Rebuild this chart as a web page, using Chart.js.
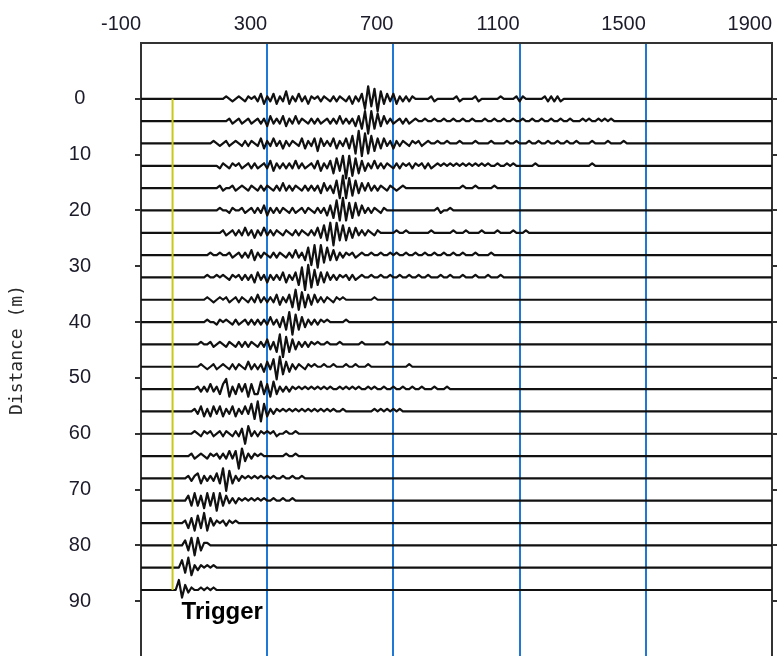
<!DOCTYPE html>
<html>
<head>
<meta charset="utf-8">
<script src="https://cdn.jsdelivr.net/npm/chart.js@4.4.1/dist/chart.umd.min.js"></script>
<style>
  html, body { margin: 0; padding: 0; background: #fff; overflow: hidden; }
  canvas { display: block; }
</style>
</head>
<body>
<canvas id="seisChart" width="778" height="680"></canvas>
<script>
// geophone offsets (m) and time axis (ms)
const distances = [0, 4, 8, 12, 16, 20, 24, 28, 32, 36, 40, 44, 48, 52, 56, 60, 64, 68, 72, 76, 80, 84, 88];
const startTimes = [160, 160, 120, 140, 140, 140, 140, 110, 100, 100, 100, 80, 80, 70, 60, 60, 50, 40, 40, 30, 30, 20, 10];
const sampleStep = 10;
const xTicks = [-100, 300, 700, 1100, 1500, 1900];
const yTicks = [0, 10, 20, 30, 40, 50, 60, 70, 80, 90];
const triggerTime = 0;

// trace amplitudes, one value every sampleStep ms
const waves = [
  [0,1,0,-1,0,1,0,-1,1,0, 1,-1,2,-2,1,-1,2,-2,1,-1, 3,-2,1,-1,2,-1,1,-2,1,0, 1,-1,1,0,-1,1,-1,1,0,-1,
   1,-2,1,-1,2,-4,5,-3,4,-5, 3,-2,2,-1,2,-2,1,-1,1,-1, 1,0,0,0,0,0,1,-1,0,0, 0,0,0,0,1,-1,0,0,0,0,
   1,-1,0,0,0,0,0,0,1,0, 0,0,0,1,-1,1,0,0,0,0, 0,0,1,-1,1,-1,1,-1,0,0,0],
  [0,0,1,-1,0,1,-1,0,1,-1, 0,1,-1,1,-2,2,-1,1,-1,2, -2,1,-1,2,-1,1,0,-1,1,-1, 1,-1,0,1,-1,1,-1,2,-1,1,
   -1,1,-2,2,-3,4,-5,4,-3,3, -2,2,-1,1,-1,0,1,-1,1,-1, 0,1,0,0,1,0,0,1,0,0, 1,0,0,1,0,0,1,0,0,1,
   0,0,0,1,0,0,1,0,0,1, 0,0,1,0,0,1,0,0,1,0, 0,1,0,0,1,0,0,1,0,0, 1,0,0,0,1,0,1,0,0,1, 0,1,0,1,0],
  [0,1,0,-1,0,1,-1,0,1,0, -1,1,-1,1,0,-1,2,-2,1,-1, 2,-1,1,-2,1,-1,1,0,-1,2, -2,1,-1,2,-3,2,-1,1,-1,2,
   -2,1,-1,2,-2,3,-4,5,-5,4, -4,3,-3,2,-2,2,-1,1,-2,1, -1,1,0,-1,1,0,1,-1,0,1, 0,0,1,0,0,1,0,0,0,1,
   0,0,0,0,1,0,0,0,0,1, 0,0,0,0,1,0,0,1,0,0, 0,1,0,0,1,0,0,1,0,0, 1,0,0,1,0,0,1,0,0,0,
   0,1,0,0,0,0,1,0,0,0, 0,1,0],
  [0,-1,1,0,-1,1,0,1,-1,0, 1,-1,1,-1,0,1,-1,2,-2,1, -1,1,-1,1,-1,2,-1,1,-1,0, 1,-1,2,-2,1,-1,2,-3,3,-2,
   4,-5,4,-4,3,-3,2,-2,1,-1, 2,-1,1,-1,1,0,-1,1,-1,1, 0,1,-1,1,0,1,-1,1,-1,0, 1,0,1,0,1,0,1,0,1,0,
   1,0,1,0,1,0,1,0,0,1, 0,0,1,0,1,0,0,0,0,0, 0,1,0,0,0,0,0,0,0,0, 0,0,0,0,0,0,0,0,0,1,0],
  [0,1,-1,0,0,1,-1,0,1,0, -1,1,0,-1,1,-1,1,0,-1,1, -1,2,-1,1,-1,1,0,-1,1,-1, 1,-1,1,-2,2,-1,1,-2,3,-4,
   5,-4,4,-3,3,-2,2,-1,2,-1, 1,-1,1,0,-1,1,0,-1,0,1, 0,0,0,0,0,0,0,0,0,0, 0,0,0,0,0,0,0,0,1,0,
   0,0,1,0,0,0,0,0,1,0,0],
  [0,1,0,0,-1,1,0,0,1,-1, 0,1,-1,1,-1,2,-2,1,-1,1, -1,1,0,-1,1,-1,0,1,-1,1, 0,-1,1,-1,1,-2,2,-3,4,-4,
   5,-4,3,-3,3,-2,2,-1,1,-1, 1,0,-1,1,0,0,0,0,0,0, 0,0,0,0,0,0,0,0,0,0, 1,-1,0,0,1,0,0],
  [0,0,1,-1,0,1,-1,1,-1,2, -1,1,-2,1,-1,2,-1,1,-1,1, 0,-1,1,0,-1,1,-1,1,0,-1, 1,-1,2,-2,3,-3,4,-5,4,-3,
   3,-3,2,-2,2,-1,1,-1,1,0, -1,1,0,0,0,0,0,1,0,0, 1,0,0,0,0,0,0,0,1,0, 0,0,0,0,0,1,0,0,0,1,
   0,0,0,0,1,0,0,0,0,1, 0,0,0,0,1,0,0,0,1,0],
  [0,1,0,0,1,0,0,1,-1,0, 1,-1,1,-1,2,-2,1,-1,1,0, -1,1,-1,1,0,-1,1,-1,2,-1, 1,-2,3,-4,4,-5,4,-3,3,-2,
   2,-2,1,-1,1,0,1,-1,0,1, 0,0,1,0,0,1,0,0,1,0, 1,0,0,1,0,0,1,0,0,1, 0,0,1,0,0,1,0,0,1,0,
   0,1,0,0,0,1,0,0,0,0, 1,0,0,0],
  [0,1,0,0,1,0,1,0,-1,1, 0,1,-1,1,-1,1,-2,2,-1,1, -2,1,-1,1,-1,2,-2,1,-1,2, -3,4,-5,5,-4,3,-3,2,-2,2,
   -1,1,-1,1,0,1,-1,1,-1,0, 1,0,0,1,0,0,1,0,0,1, 0,0,1,0,0,1,0,0,1,0, 0,1,0,0,0,1,0,0,1,0,
   0,0,1,0,0,0,1,0,0,0, 1,0,0,0,1,0],
  [0,1,0,-1,0,1,0,1,-1,0, 1,-1,1,0,-1,1,-1,2,-1,1, -1,1,-1,2,-2,1,-1,2,-3,4, -4,3,-3,2,-2,2,-1,1,-1,1,
   0,-1,1,0,1,0,0,0,0,0, 0,0,0,0,1,0],
  [0,1,0,0,-1,1,0,1,0,-1, 1,-1,0,1,-1,1,-1,1,-1,1, -1,2,-1,1,-2,2,-3,4,-5,3, -3,2,-2,1,-1,1,-1,1,0,1,
   0,0,0,0,0,1,0],
  [0,1,0,0,1,-1,0,1,0,-1, 1,0,-1,1,-1,1,-1,1,0,-1, 1,-1,2,-2,1,-3,4,-5,3,-3, 2,-2,1,-1,1,-1,1,0,1,0,
   0,1,0,0,0,1,0,0,0,0, 0,0,1,0,0,0,0,0,0,0,1,0],
  [0,1,0,-1,0,1,-1,0,1,0, -1,1,-1,1,0,-1,2,-1,1,-1, 1,-2,2,-1,3,-5,4,-3,2,-2, 1,-1,1,0,-1,1,0,1,0,0,
   1,0,0,1,0,0,0,1,0,0, 1,0,0,0,1,0,0,0,0,0, 0,0,0,0,0,0,0,1,0],
  [0,1,-1,1,-1,2,-1,1,-2,2, 4,-3,1,-2,2,-1,2,-3,2,-2, -2,3,-2,2,-3,3,-2,1,-1,1, -1,1,0,1,0,1,0,1,0,1,
   0,1,0,1,0,0,1,0,1,0, 1,0,1,0,0,1,0,1,0,0, 1,0,0,1,0,0,1,0,0,1, 0,0,1,0,0,0,1,0,0,0, 1,0,0,0],
  [0,1,-1,2,-2,1,-2,2,-1,2, -2,1,-1,2,-2,1,-1,2,-1,3, -3,4,-4,3,-2,1,-1,1,0,1, 0,1,0,1,0,1,0,1,0,1,
   0,1,0,1,0,1,0,0,1,0, 0,0,0,0,0,0,0,0,1,0, 1,0,1,0,1,0,1,0,0,0],
  [0,1,0,-1,1,0,1,-1,0,1, -1,1,0,-1,1,-1,2,-4,3,-1, 1,-1,1,0,1,0,1,-1,0,0, 1,0,0,1,0],
  [0,1,-1,0,1,0,-1,1,0,1, -1,1,-1,2,-1,2,-5,3,-2,1, -1,1,0,1,0,0,0,0,0,0, 0,1,0,0,1,0],
  [0,1,-1,1,2,-2,1,-1,1,-1, 2,-2,4,-5,3,-2,1,-1,1,0, 1,0,1,0,1,0,1,0,1,0, 0,1,0,0,1,0,0,1,0,0],
  [0,2,-2,3,-2,2,-3,3,-2,3, -4,3,-2,2,-1,1,-1,1,0,1, 0,1,0,1,0,1,0,0,1,0, 0,1,0,0,1,0,0],
  [0,1,-2,2,-3,3,-2,4,-3,2, -1,1,0,1,-1,1,0,1,0,0],
  [0,2,-2,3,-4,3,-2,1,1,0],
  [0,3,-2,4,-3,1,-1,1,0,1,0,1,0],
  [0,4,-3,2,-1,1,0,0,1,0,1,0,1,0]
];

const ampScale = 0.45; // m of offset per amplitude unit

function tracePoints(i) {
  const d = distances[i];
  const pts = [{x: xTicks[0], y: d}];
  waves[i].forEach((a, k) => {
    pts.push({x: startTimes[i] + k * sampleStep, y: d - a * ampScale});
  });
  pts.push({x: xTicks[xTicks.length - 1], y: d});
  return pts;
}

const datasets = [{
  data: [{x: triggerTime, y: distances[0]}, {x: triggerTime, y: distances[distances.length - 1]}],
  borderColor: '#c9c81a',
  borderWidth: 2
}];
distances.forEach((d, i) => {
  datasets.push({
    data: tracePoints(i),
    borderColor: '#111',
    borderWidth: 2.2,
    borderJoinStyle: 'round'
  });
});

const triggerLabel = {
  id: 'triggerLabel',
  afterDatasetsDraw(chart) {
    const {ctx, scales} = chart;
    const x = scales.x.getPixelForValue(triggerTime) + 9;
    const y = scales.y.getPixelForValue(distances[distances.length - 1]) + 29;
    ctx.save();
    ctx.font = 'bold 24px "Liberation Sans", Arial, sans-serif';
    ctx.fillStyle = '#000';
    ctx.textAlign = 'left';
    ctx.textBaseline = 'alphabetic';
    ctx.fillText('Trigger', x, y);
    ctx.restore();
  }
};

const setTicks = list => scale => { scale.ticks = list.map(v => ({value: v})); };
const noPad = w => s => { s.width = w; s.paddingTop = 0; s.paddingBottom = 0; };

const ctx = document.getElementById('seisChart').getContext('2d');

let seisChart = new Chart(ctx, {
  type: 'line',
  data: { datasets: datasets },
  options: {
    responsive: false,
    animation: false,
    devicePixelRatio: 1,
    layout: { padding: { left: 0, right: 0, top: 0, bottom: 23 } },
    elements: { point: { radius: 0 }, line: { tension: 0 } },
    plugins: { legend: { display: false }, tooltip: { enabled: false } },
    scales: {
      x: {
        type: 'linear',
        position: 'top',
        min: -100,
        max: 1900,
        z: 1,
        afterBuildTicks: setTicks(xTicks),
        afterFit: s => { s.height = 43; s.paddingLeft = 0; s.paddingRight = 0; },
        border: { color: '#333', width: 2 },
        grid: {
          drawTicks: false,
          lineWidth: 2,
          color: c => (c.tick && (c.tick.value === -100 || c.tick.value === 1900)) ? 'rgba(0,0,0,0)' : '#1f78d6'
        },
        ticks: {
          align: 'end',
          padding: 7,
          color: '#1b1b2a',
          callback: v => String(v),
          font: { family: '"Liberation Sans", Arial, sans-serif', size: 20 }
        }
      },
      y: {
        type: 'linear',
        position: 'left',
        reverse: true,
        min: -10,
        max: 100,
        afterBuildTicks: setTicks(yTicks),
        afterFit: noPad(141),
        border: { color: '#333', width: 2 },
        grid: { drawOnChartArea: false, tickLength: 6, lineWidth: 2, color: '#333' },
        ticks: {
          crossAlign: 'center',
          padding: 44,
          color: '#1b1b2a',
          callback: v => String(v),
          font: { family: '"Liberation Sans", Arial, sans-serif', size: 20 }
        },
        title: {
          display: true,
          text: 'Distance (m)',
          color: '#2a2a2a',
          padding: { top: 7, bottom: 0 },
          font: { family: '"DejaVu Sans Mono", monospace', size: 18 }
        }
      },
      y2: {
        type: 'linear',
        position: 'right',
        reverse: true,
        min: -10,
        max: 100,
        afterBuildTicks: setTicks(yTicks),
        afterFit: noPad(6),
        border: { color: '#333', width: 2 },
        grid: { drawOnChartArea: false, tickLength: 5, lineWidth: 2, color: '#333' },
        ticks: { display: false }
      }
    }
  },
  plugins: [triggerLabel]
});
</script>
</body>
</html>
